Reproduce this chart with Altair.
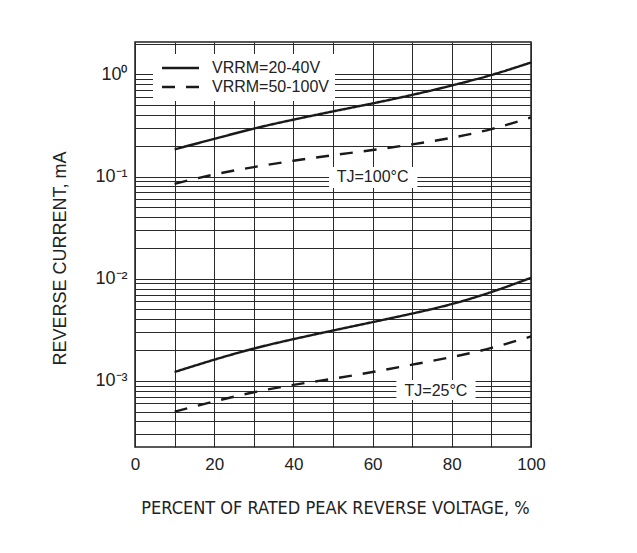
import altair as alt
import pandas as pd

# ---- data ----
x_pct = [10, 20, 30, 40, 50, 60, 70, 80, 90, 100]
ir_100c_20_40v = [0.185, 0.234, 0.295, 0.361, 0.435, 0.521, 0.631, 0.780, 0.989, 1.31]
ir_100c_50_100v = [0.085, 0.105, 0.124, 0.143, 0.162, 0.182, 0.207, 0.240, 0.292, 0.380]
ir_25c_20_40v = [0.00122, 0.00161, 0.00207, 0.00256, 0.00311, 0.00376, 0.00456, 0.00565, 0.00741, 0.0102]
ir_25c_50_100v = [0.000499, 0.000628, 0.000773, 0.000912, 0.00105, 0.00122, 0.00144, 0.00171, 0.00210, 0.00272]

series_names = ["VRRM=20-40V", "VRRM=50-100V"]
temps = ["100", "25"]

ann_labels = ["TJ=100°C", "TJ=25°C"]
ann_x = [60, 76]
ann_y = [0.1, 0.00079]
box_x1 = [49, 66]
box_x2 = [71.3, 86]
box_y1 = [0.124, 0.00102]
box_y2 = [0.0773, 0.000648]

x_ticks = list(range(0, 101, 10))
y_ticks = [float(f"{m}e{k}") for k in range(-4, 1) for m in range(1, 10)]
y_ticks = [v for v in y_ticks if 2.25e-4 <= v <= 2.08]

rows = []
for t, s, vals in [("100", series_names[0], ir_100c_20_40v),
                   ("100", series_names[1], ir_100c_50_100v),
                   ("25", series_names[0], ir_25c_20_40v),
                   ("25", series_names[1], ir_25c_50_100v)]:
    for xv, yv in zip(x_pct, vals):
        rows.append({"pct": xv, "ir": yv, "temp": t, "series": s})
df = pd.DataFrame(rows)

ann = pd.DataFrame({"label": ann_labels, "tx": ann_x, "ty": ann_y,
                    "x1": box_x1, "x2": box_x2, "y1": box_y1, "y2": box_y2})

FONT = "Liberation Sans"
INK = "#1a1a1a"
GRID = "#2a2a2a"

xscale = alt.Scale(domain=[0, 100], nice=False)
yscale = alt.Scale(type="log", domain=[2.25e-4, 2.08], nice=False)

xaxis = alt.Axis(
    values=x_ticks,
    labelExpr="datum.value % 20 == 0 ? datum.label : ''",
    grid=True, gridColor=GRID, gridWidth=1, gridOpacity=1,
    ticks=False, domain=False,
    labelFont=FONT, labelFontSize=17, labelColor="#222", labelPadding=9,
    labelOverlap=False, labelFlush=False,
    title="PERCENT OF RATED PEAK REVERSE VOLTAGE, %",
    titleFont="DejaVu Sans Condensed, Liberation Sans", titleFontSize=18, titleFontWeight="normal",
    titleColor="#222", titleX=200, titleY=61, titleBaseline="middle",
)
yaxis = alt.Axis(
    values=y_ticks,
    labelExpr="datum.value == 1 ? '10⁰' : datum.value == 0.1 ? '10⁻¹' : datum.value == 0.01 ? '10⁻²' : datum.value == 0.001 ? '10⁻³' : ''",
    grid=True, gridColor=GRID, gridWidth=1, gridOpacity=1,
    ticks=False, domain=False,
    labelFont=FONT, labelFontSize=18, labelColor="#222", labelPadding=8,
    labelOverlap=False, labelFlush=False,
    title="REVERSE CURRENT, mA",
    titleFont=FONT, titleFontSize=18, titleFontWeight="normal", titleColor="#222",
    titleX=-75, titleY=216, titleBaseline="middle", titleAngle=270,
)

lines = alt.Chart(df).mark_line(strokeWidth=2.4, color=INK, interpolate="natural").encode(
    x=alt.X("pct:Q", scale=xscale, axis=xaxis),
    y=alt.Y("ir:Q", scale=yscale, axis=yaxis),
    strokeDash=alt.StrokeDash(
        "series:N",
        scale=alt.Scale(domain=series_names, range=[[1, 0], [13, 11]]),
        legend=alt.Legend(
            orient="none", legendX=18, legendY=12, title=None,
            symbolType="M-1,0H6.4", symbolSize=100, symbolStrokeWidth=2.4,
            symbolStrokeColor=INK, symbolFillColor="transparent",
            labelFont=FONT, labelFontSize=16, labelColor="#222", labelOffset=37,
            fillColor="white", padding=6, rowPadding=3,
        ),
    ),
    detail="temp:N",
)

boxes = alt.Chart(ann).mark_rect(fill="white", stroke=None).encode(
    x=alt.X("x1:Q", scale=xscale, axis=xaxis),
    x2="x2:Q",
    y=alt.Y("y1:Q", scale=yscale, axis=yaxis),
    y2="y2:Q",
)

texts = alt.Chart(ann).mark_text(font=FONT, fontSize=16, color="#222").encode(
    x=alt.X("tx:Q", scale=xscale, axis=xaxis),
    y=alt.Y("ty:Q", scale=yscale, axis=yaxis),
    text="label:N",
)

chart = alt.layer(lines, boxes, texts).properties(
    width=396, height=405,
    autosize=alt.AutoSizeParams(type="none"),
    padding={"left": 127, "top": 34, "right": 98, "bottom": 90},
    background="white",
).configure_view(stroke="#222", strokeWidth=1.5)

chart.save("out.html", embed_options={"renderer": "svg", "actions": False})
